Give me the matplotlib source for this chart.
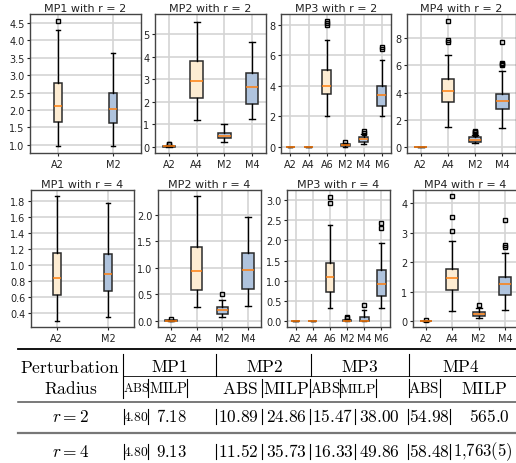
import matplotlib
matplotlib.use("Agg")
import matplotlib.pyplot as plt
from matplotlib.lines import Line2D

# ---------------- data (five-number summaries: lo, q1, med, q3, hi) ----------------
labels_2 = ['A2', 'M2']
labels_4 = ['A2', 'A4', 'M2', 'M4']
labels_6 = ['A2', 'A4', 'A6', 'M2', 'M4', 'M6']

mp1_r2_stats = [[0.95, 1.65, 2.12, 2.78, 4.31], [0.95, 1.61, 2.03, 2.48, 3.63]]
mp1_r2_fliers = [[4.56], []]
mp2_r2_stats = [[0.0, 0.0, 0.01, 0.03, 0.08], [1.2, 2.14, 2.93, 3.82, 5.55],
                [0.22, 0.37, 0.49, 0.6, 1.0], [1.25, 1.89, 2.66, 3.27, 4.63]]
mp2_r2_fliers = [[0.1, 0.12], [], [], []]
mp3_r2_stats = [[0.0, 0.0, 0.0, 0.0, 0.0], [0.0, 0.0, 0.0, 0.0, 0.0],
                [2.04, 3.46, 4.01, 5.06, 7.01], [0.0, 0.06, 0.1, 0.14, 0.22],
                [0.2, 0.33, 0.5, 0.61, 0.83], [2.0, 2.65, 3.42, 4.01, 5.7]]
mp3_r2_fliers = [[], [], [8.0, 8.1, 8.25], [0.3], [0.92, 1.0], [6.4, 6.55]]
mp4_r2_stats = [[0.0, 0.0, 0.0, 0.0, 0.0], [1.48, 3.33, 4.09, 5.0, 6.77],
                [0.25, 0.37, 0.52, 0.69, 0.89], [1.35, 2.78, 3.35, 3.89, 5.56]]
mp4_r2_fliers = [[], [7.75, 7.85, 9.3], [0.95, 1.05, 1.1, 1.15], [6.0, 6.1, 6.2, 7.7]]

mp1_r4_stats = [[0.295, 0.617, 0.84, 1.148, 1.86], [0.345, 0.667, 0.89, 1.14, 1.775]]
mp1_r4_fliers = [[], []]
mp2_r4_stats = [[0.0, 0.0, 0.005, 0.012, 0.02], [0.26, 0.59, 0.94, 1.39, 2.34],
                [0.075, 0.14, 0.21, 0.26, 0.39], [0.275, 0.61, 0.95, 1.275, 1.95]]
mp2_r4_fliers = [[0.04], [], [0.51], []]
mp3_r4_stats = [[0.0, 0.0, 0.0, 0.0, 0.0], [0.0, 0.0, 0.0, 0.0, 0.0],
                [0.32, 0.72, 1.09, 1.43, 2.38], [0.0, 0.0, 0.005, 0.02, 0.05],
                [0.0, 0.0, 0.0, 0.1, 0.28], [0.32, 0.61, 0.91, 1.27, 1.94]]
mp3_r4_fliers = [[], [], [2.92, 3.08], [0.08, 0.1], [0.4], [2.31, 2.43]]
mp4_r4_stats = [[0.0, 0.0, 0.0, 0.0, 0.0], [0.34, 1.06, 1.46, 1.77, 2.71],
                [0.11, 0.19, 0.25, 0.3, 0.45], [0.38, 0.89, 1.27, 1.49, 2.3]]
mp4_r4_fliers = [[0.03], [3.07, 3.53, 4.24], [0.53], [2.53, 2.58, 3.44]]

panel_titles_r2 = ['MP1 with r = 2', 'MP2 with r = 2', 'MP3 with r = 2', 'MP4 with r = 2']
panel_titles_r4 = ['MP1 with r = 4', 'MP2 with r = 4', 'MP3 with r = 4', 'MP4 with r = 4']

# table
table_groups = ['MP1', 'MP2', 'MP3', 'MP4']
table_subcols = ['ABS', 'MILP']
row_labels = ['r = 2', 'r = 4']
abs_r2 = ['4.80', '10.89', '15.47', '54.98']
milp_r2 = ['7.18', '24.86', '38.00', '565.0']
abs_r4 = ['4.80', '11.52', '16.33', '58.48']
milp_r4 = ['9.13', '35.73', '49.86', '1,763(5)']

# ---------------- figure ----------------
W, H = 516, 464
fig = plt.figure(figsize=(W / 100, H / 100), dpi=100)
plt.rcParams['mathtext.fontset'] = 'cm'

A_COLOR = '#fdecd2'
M_COLOR = '#afc3dd'
EDGE = '#2b2b2b'
GRID = '#d4d4d4'


def px_axes(x0, x1, y0, y1):
    return fig.add_axes([x0 / W, 1 - y1 / H, (x1 - x0) / W, (y1 - y0) / H])


def draw_panel(ax, labels, stats, fliers, title, ylim, yticks, yfmt):
    bxp = []
    for lab, s, f in zip(labels, stats, fliers):
        bxp.append(dict(label=lab, whislo=s[0], q1=s[1], med=s[2], q3=s[3],
                        whishi=s[4], fliers=f))
    pos = list(range(1, len(labels) + 1))
    res = ax.bxp(bxp, positions=pos, patch_artist=True, showfliers=True,
                 boxprops=dict(edgecolor=EDGE, linewidth=1.1),
                 whiskerprops=dict(color='black', linewidth=1.0),
                 capprops=dict(color='black', linewidth=1.0),
                 medianprops=dict(color='#ff7f0e', linewidth=1.1),
                 flierprops=dict(marker='s', markersize=2.8, markerfacecolor='none',
                                 markeredgecolor='black', markeredgewidth=1.0))
    for lab, patch in zip(labels, res['boxes']):
        patch.set_facecolor(A_COLOR if lab.startswith('A') else M_COLOR)
    ax.set_xlim(0.5, len(labels) + 0.5)
    ax.set_ylim(*ylim)
    ax.set_yticks(yticks)
    ax.set_yticklabels([yfmt.format(t) for t in yticks])
    ax.set_xticks(pos)
    ax.set_xticklabels(labels)
    ax.grid(True, color=GRID, linewidth=1.2)
    ax.set_axisbelow(True)
    ax.tick_params(labelsize=7, length=2.5, width=0.8, pad=1.5, colors='#222222')
    for sp in ax.spines.values():
        sp.set_color('#444444')
        sp.set_linewidth(1.0)
    ax.set_title(title, fontsize=8, pad=2.5, color='#222222')


# row 1 (r = 2)
ax = px_axes(30, 141, 15, 154)
draw_panel(ax, labels_2, mp1_r2_stats, mp1_r2_fliers, panel_titles_r2[0],
           (0.76, 4.76), [1.0, 1.5, 2.0, 2.5, 3.0, 3.5, 4.0, 4.5], '{:.1f}')
ax = px_axes(155, 266, 15, 154)
draw_panel(ax, labels_4, mp2_r2_stats, mp2_r2_fliers, panel_titles_r2[1],
           (-0.28, 5.89), [0, 1, 2, 3, 4, 5], '{:d}')
ax = px_axes(281, 391, 15, 154)
draw_panel(ax, labels_6, mp3_r2_stats, mp3_r2_fliers, panel_titles_r2[2],
           (-0.42, 8.72), [0, 2, 4, 6, 8], '{:d}')
ax = px_axes(407, 516, 15, 154)
draw_panel(ax, labels_4, mp4_r2_stats, mp4_r2_fliers, panel_titles_r2[3],
           (-0.47, 9.8), [0, 2, 4, 6, 8], '{:d}')

# row 2 (r = 4)
ax = px_axes(31, 134, 191, 328)
draw_panel(ax, labels_2, mp1_r4_stats, mp1_r4_fliers, panel_titles_r4[0],
           (0.22, 1.94), [0.4, 0.6, 0.8, 1.0, 1.2, 1.4, 1.6, 1.8], '{:.1f}')
ax = px_axes(158, 261, 191, 328)
draw_panel(ax, labels_4, mp2_r4_stats, mp2_r4_fliers, panel_titles_r4[1],
           (-0.11, 2.46), [0.0, 0.5, 1.0, 1.5, 2.0], '{:.1f}')
ax = px_axes(287, 390, 191, 328)
draw_panel(ax, labels_6, mp3_r4_stats, mp3_r4_fliers, panel_titles_r4[2],
           (-0.15, 3.25), [0.0, 0.5, 1.0, 1.5, 2.0, 2.5, 3.0], '{:.1f}')
ax = px_axes(413, 518, 191, 328)
draw_panel(ax, labels_4, mp4_r4_stats, mp4_r4_fliers, panel_titles_r4[3],
           (-0.2, 4.45), [0, 1, 2, 3, 4], '{:d}')

# ---------------- table ----------------
FS = 12.5


def ftext(x, y, s, fs=FS, ha='center'):
    fig.text(x / W, 1 - y / H, s, ha=ha, va='center', fontsize=fs)


def hline(x0, x1, y, lw=1.0, color='black'):
    fig.add_artist(Line2D([x0 / W, x1 / W], [1 - y / H, 1 - y / H], lw=lw,
                          color=color, transform=fig.transFigure))


def vline(x, y0, y1, lw=0.8, color='black'):
    fig.add_artist(Line2D([x / W, x / W], [1 - y0 / H, 1 - y1 / H], lw=lw,
                          color=color, transform=fig.transFigure))


def rm(s):
    s = s.replace(',', '{,}').replace(' ', r'\ ')
    return r'$\mathrm{' + s + '}$'


hline(18, 516, 350, lw=1.3)
hline(123, 516, 377, lw=0.6)
hline(18, 516, 403, lw=1.1, color='#555555')
hline(18, 516, 434, lw=1.6, color='#777777')

ftext(70, 368, rm('Perturbation'))
ftext(71, 389, rm('Radius'))
vline(123, 355, 399)
group_cx = [170, 265, 360, 461]
group_bar = [216, 311, 409]
for g, cx in zip(table_groups, group_cx):
    ftext(cx, 367, rm(g))
for bx in group_bar:
    vline(bx, 355, 377)

# second header row: centres and font sizes per cell (narrow cells use smaller type)
abs_cx = [136, 240, 325, 424]
abs_fs = [9.0, 12.5, 10.5, 10.8]
milp_cx = [168, 286, 358, 484]
milp_fs = [10.5, 12.5, 10.0, 12.5]
sub_bars = [148, 187, 262, 310, 340, 376, 409, 440]
for cx, fs in zip(abs_cx, abs_fs):
    ftext(cx, 389, rm(table_subcols[0]), fs=fs)
for cx, fs in zip(milp_cx, milp_fs):
    ftext(cx, 389, rm(table_subcols[1]), fs=fs)
for bx in sub_bars:
    vline(bx, 380, 398)

row_y = [417, 452]
row_abs = [abs_r2, abs_r4]
row_milp = [milp_r2, milp_r4]
val_abs_cx = [136, 238, 333, 429]
val_abs_fs = [9.8, 12.5, 12.5, 12.5]
val_milp_cx = [171, 286, 379, 489]
val_milp_fs = [12.0, 12.5, 12.5, 12.5]
data_bars = [124, 148, 216, 262, 310, 355, 408, 450]
for ry, lab, av, mv in zip(row_y, row_labels, row_abs, row_milp):
    ftext(71, ry, '$' + lab + '$')
    for c, s, fs in zip(val_abs_cx, av, val_abs_fs):
        ftext(c, ry, rm(s), fs=fs)
    for c, s, fs in zip(val_milp_cx, mv, val_milp_fs):
        if s.startswith('1,'):
            ftext(453, ry, rm(s), fs=12.0, ha='left')
        else:
            ftext(c, ry, rm(s), fs=fs)
    for bx in data_bars:
        vline(bx, ry - 7.5, ry + 7.5)

fig.savefig('out.png', dpi=100)
